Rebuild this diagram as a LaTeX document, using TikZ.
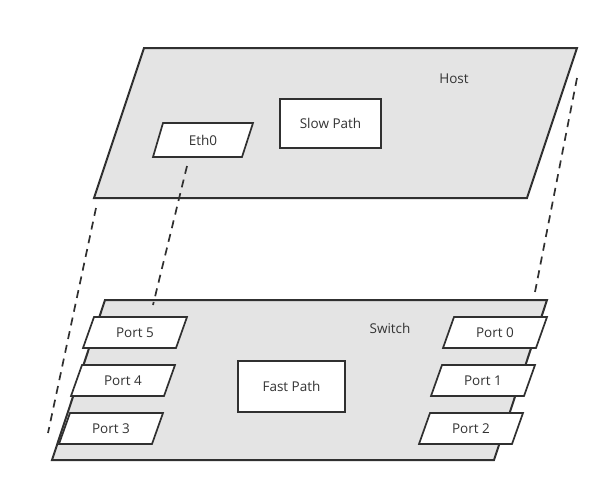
\documentclass[tikz,border=0pt]{standalone}
\usepackage{fontspec}
\setmainfont{Open Sans}
\begin{document}
\begin{tikzpicture}[x=1pt,y=-1pt,
  plane/.style={draw=linec, fill=planefill, line width=2pt, line join=miter},
  portbox/.style={draw=linec, fill=white, line width=1.7pt},
  lbl/.style={font=\fontsize{13.5}{16}\selectfont, text=textc, inner sep=0pt},
  link/.style={draw=linec, line width=1.7pt, dash pattern=on 8pt off 6pt}]
\definecolor{linec}{HTML}{303030}
\definecolor{planefill}{HTML}{E4E4E4}
\definecolor{textc}{HTML}{333333}
\useasboundingbox (0,0) rectangle (609,493);
% host plane
\draw[plane] (144,48) -- (577,48) -- (527,198) -- (94,198) -- cycle;
\node[lbl] (host) at (454,79) {Host};
\draw[portbox] (280,99) rectangle (381,148);
\node[lbl] (slow) at (330.5,123.5) {Slow Path};
\draw[portbox] (163,123) -- (253,123) -- (242,157) -- (153,157) -- cycle;
\node[lbl] (eth0) at (203,140) {Eth0};
% switch plane
\draw[plane] (105,300) -- (547,300) -- (494,460) -- (52,460) -- cycle;
\node[lbl] (switch) at (390,328) {Switch};
\draw[portbox] (238,361) rectangle (345,412);
\node[lbl] (fast) at (291.5,386.5) {Fast Path};
% ports
\foreach \nm/\lab/\x/\y in {p5/Port 5/94/317, p4/Port 4/82/365, p3/Port 3/70/413,
                           p0/Port 0/454/317, p1/Port 1/442/365, p2/Port 2/430/413}{
  \draw[portbox] (\x,\y) -- ++(93,0) -- ++(-11,31) -- ++(-93,0) -- cycle;
  \node[lbl] (\nm) at (\x+41,\y+15.5) {\lab};
}
% dashed links
\coordinate (hl) at (96,208);
\coordinate (sl) at (48,433);
\coordinate (he) at (187,166);
\coordinate (se) at (153,305);
\coordinate (hr) at (577,78);
\coordinate (sr) at (535,292);
\draw[link] (hl) -- (sl);
\draw[link] (he) -- (se);
\draw[link] (hr) -- (sr);
\end{tikzpicture}
\end{document}
